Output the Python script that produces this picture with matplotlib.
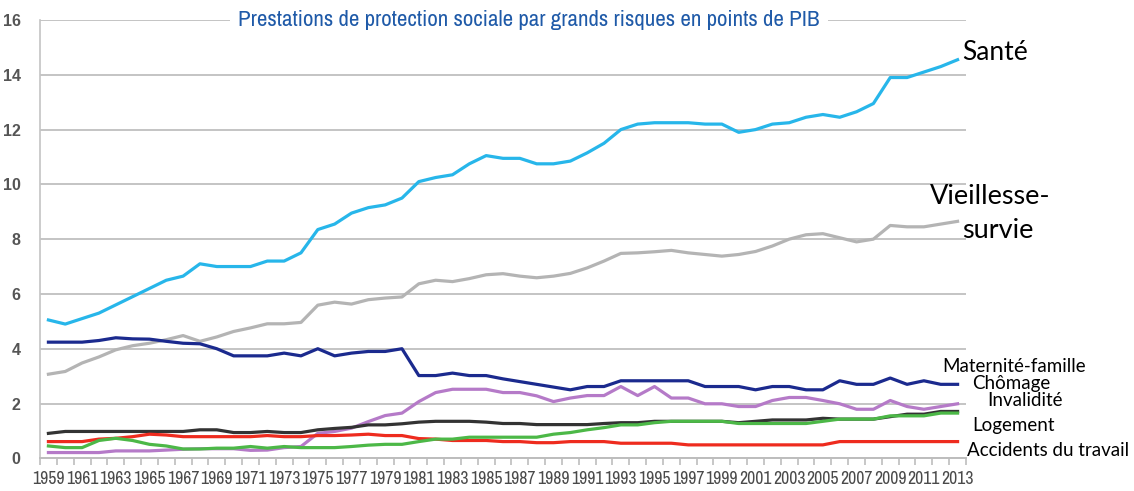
import matplotlib.pyplot as plt
from matplotlib import font_manager
import numpy as np

years = list(range(1959, 2014))

sante = [5.05, 4.9, 5.1, 5.3, 5.6, 5.9, 6.2, 6.5, 6.65, 7.1,
         7.0, 7.0, 7.0, 7.2, 7.2, 7.5, 8.35, 8.55, 8.95, 9.15,
         9.25, 9.5, 10.1, 10.25, 10.35, 10.75, 11.05, 10.95, 10.95, 10.75,
         10.75, 10.85, 11.15, 11.5, 12.0, 12.2, 12.25, 12.25, 12.25, 12.2,
         12.2, 11.9, 12.0, 12.2, 12.25, 12.45, 12.55, 12.45, 12.65, 12.95,
         13.9, 13.9, 14.1, 14.3, 14.55]
vieillesse = [3.07, 3.17, 3.48, 3.7, 3.96, 4.11, 4.2, 4.33, 4.48, 4.27,
              4.43, 4.63, 4.76, 4.91, 4.91, 4.96, 5.59, 5.7, 5.63, 5.79,
              5.85, 5.89, 6.37, 6.5, 6.45, 6.56, 6.7, 6.74, 6.65, 6.59,
              6.65, 6.75, 6.95, 7.2, 7.48, 7.5, 7.54, 7.59, 7.5, 7.44,
              7.38, 7.44, 7.55, 7.75, 8.0, 8.16, 8.2, 8.05, 7.9, 8.0,
              8.5, 8.45, 8.45, 8.55, 8.65]
maternite = [4.24, 4.24, 4.24, 4.3, 4.4, 4.36, 4.35, 4.27, 4.2, 4.18,
             4.0, 3.74, 3.74, 3.74, 3.84, 3.74, 4.0, 3.74, 3.84, 3.9,
             3.9, 4.0, 3.02, 3.02, 3.11, 3.02, 3.02, 2.9, 2.8, 2.7,
             2.6, 2.5, 2.62, 2.62, 2.83, 2.83, 2.83, 2.83, 2.83, 2.62,
             2.62, 2.62, 2.5, 2.62, 2.62, 2.5, 2.5, 2.83, 2.7, 2.7,
             2.93, 2.7, 2.83, 2.7, 2.7]
invalidite = [0.21, 0.21, 0.21, 0.21, 0.27, 0.27, 0.27, 0.3, 0.33, 0.35,
              0.35, 0.35, 0.29, 0.3, 0.39, 0.43, 0.91, 0.98, 1.1, 1.34,
              1.56, 1.65, 2.07, 2.4, 2.52, 2.52, 2.52, 2.4, 2.4, 2.28,
              2.07, 2.2, 2.29, 2.29, 2.62, 2.29, 2.62, 2.2, 2.2, 1.99,
              1.99, 1.89, 1.89, 2.11, 2.22, 2.22, 2.11, 1.99, 1.79, 1.79,
              2.11, 1.89, 1.79, 1.89, 1.99]
logement = [0.91, 0.98, 0.98, 0.98, 0.98, 0.98, 0.98, 0.98, 0.98, 1.04,
            1.04, 0.94, 0.94, 0.98, 0.94, 0.94, 1.04, 1.09, 1.13, 1.22,
            1.22, 1.26, 1.32, 1.35, 1.35, 1.35, 1.32, 1.27, 1.27, 1.23,
            1.23, 1.23, 1.23, 1.27, 1.3, 1.3, 1.35, 1.35, 1.35, 1.35,
            1.35, 1.3, 1.35, 1.4, 1.4, 1.4, 1.46, 1.43, 1.43, 1.43,
            1.52, 1.61, 1.61, 1.71, 1.71]
chomage = [0.45, 0.39, 0.39, 0.65, 0.73, 0.65, 0.51, 0.45, 0.34, 0.34,
           0.37, 0.37, 0.43, 0.37, 0.43, 0.39, 0.39, 0.39, 0.43, 0.48,
           0.51, 0.51, 0.61, 0.7, 0.7, 0.77, 0.77, 0.77, 0.77, 0.77,
           0.88, 0.94, 1.04, 1.12, 1.22, 1.22, 1.3, 1.35, 1.35, 1.35,
           1.35, 1.27, 1.27, 1.27, 1.27, 1.27, 1.35, 1.43, 1.43, 1.43,
           1.55, 1.55, 1.55, 1.65, 1.65]
accidents = [0.61, 0.61, 0.61, 0.7, 0.73, 0.79, 0.88, 0.85, 0.79, 0.79,
             0.79, 0.79, 0.79, 0.83, 0.79, 0.79, 0.83, 0.83, 0.85, 0.88,
             0.83, 0.83, 0.72, 0.7, 0.65, 0.65, 0.65, 0.61, 0.61, 0.57,
             0.57, 0.61, 0.61, 0.61, 0.55, 0.55, 0.55, 0.55, 0.49, 0.49,
             0.49, 0.49, 0.49, 0.49, 0.49, 0.49, 0.49, 0.61, 0.61, 0.61,
             0.61, 0.61, 0.61, 0.61, 0.61]

# pick a narrow font if one is installed, the reference uses a condensed one
narrow = None
for f in font_manager.fontManager.ttflist:
    if 'Narrow' in f.name or 'Condensed' in f.name:
        narrow = f.name
        break
if narrow:
    tick_font, tick_size = narrow, 12.8
    title_font, title_size = narrow, 16.5
else:
    tick_font, tick_size = 'Liberation Sans', 9.3
    title_font, title_size = 'Liberation Sans', 13.5

W, H = 1134, 491
fig = plt.figure(figsize=(W / 100, H / 100), dpi=100)
ax = fig.add_axes([40 / W, 1 - 458.3 / H, (966 - 40) / W, (458.3 - 20) / H])

lw = 2.3
plt.plot(years, sante, color='#27b6ea', lw=lw)
plt.plot(years, vieillesse, color='#b4b4b4', lw=lw)
plt.plot(years, maternite, color='#1b2a8e', lw=lw)
plt.plot(years, invalidite, color='#b57ac8', lw=lw)
plt.plot(years, logement, color='#333333', lw=lw)
plt.plot(years, accidents, color='#ee2b1e', lw=lw)
plt.plot(years, chomage, color='#4cb847', lw=lw)

ax.set_xlim(1958.5, 2013.5)
ax.set_ylim(0, 16)
ax.set_yticks(range(0, 17, 2))
ax.yaxis.grid(True, color='#c4c4c4', lw=1.4)
ax.set_axisbelow(True)
for s in ['top', 'right']:
    ax.spines[s].set_visible(False)
ax.spines['left'].set_color('#c4c4c4')
ax.spines['bottom'].set_color('#bdbdbd')
ax.spines['left'].set_linewidth(1.2)
ax.spines['bottom'].set_linewidth(1.4)

ax.set_xticks(years[::2])
ax.set_xticklabels([str(y) for y in years[::2]], family=tick_font,
                   fontweight='bold', fontsize=tick_size, color='#4a4a4a')
ax.set_xticks(np.arange(1958.5, 2014, 1), minor=True)
ax.tick_params(axis='x', which='major', length=0, pad=9)
ax.tick_params(axis='x', which='minor', length=5, color='#bdbdbd', width=1.2)
ax.tick_params(axis='y', length=0, pad=14)
for lab in ax.get_yticklabels():
    lab.set_family('Liberation Sans')
    lab.set_fontweight('bold')
    lab.set_fontsize(11.5)
    lab.set_color('#555555')

ax.text(0.528, 1.0, "Prestations de protection sociale par grands risques en points de PIB",
        transform=ax.transAxes, ha='center', va='center', family=title_font,
        fontsize=title_size, color='#1f5aa8',
        bbox=dict(facecolor='white', edgecolor='none', pad=6))

lab_font = 'Lato'
fig.text(962 / W, 1 - 53 / H, "Santé", fontsize=19, family=lab_font, va='center')
fig.text(930 / W, 1 - 196 / H, "Vieillesse-", fontsize=19.5, family=lab_font, va='center')
fig.text(962 / W, 1 - 231 / H, "survie", fontsize=19.5, family=lab_font, va='center')
fig.text(942 / W, 1 - 367 / H, "Maternité-famille", fontsize=13.5, family=lab_font, va='center')
fig.text(972 / W, 1 - 383 / H, "Chômage", fontsize=13.5, family=lab_font, va='center')
fig.text(987 / W, 1 - 400 / H, "Invalidité", fontsize=13.5, family=lab_font, va='center')
fig.text(972 / W, 1 - 425 / H, "Logement", fontsize=13.5, family=lab_font, va='center')
fig.text(967 / W, 1 - 451 / H, "Accidents du travail", fontsize=13.5, family=lab_font, va='center')

plt.savefig('out.png', dpi=100)
